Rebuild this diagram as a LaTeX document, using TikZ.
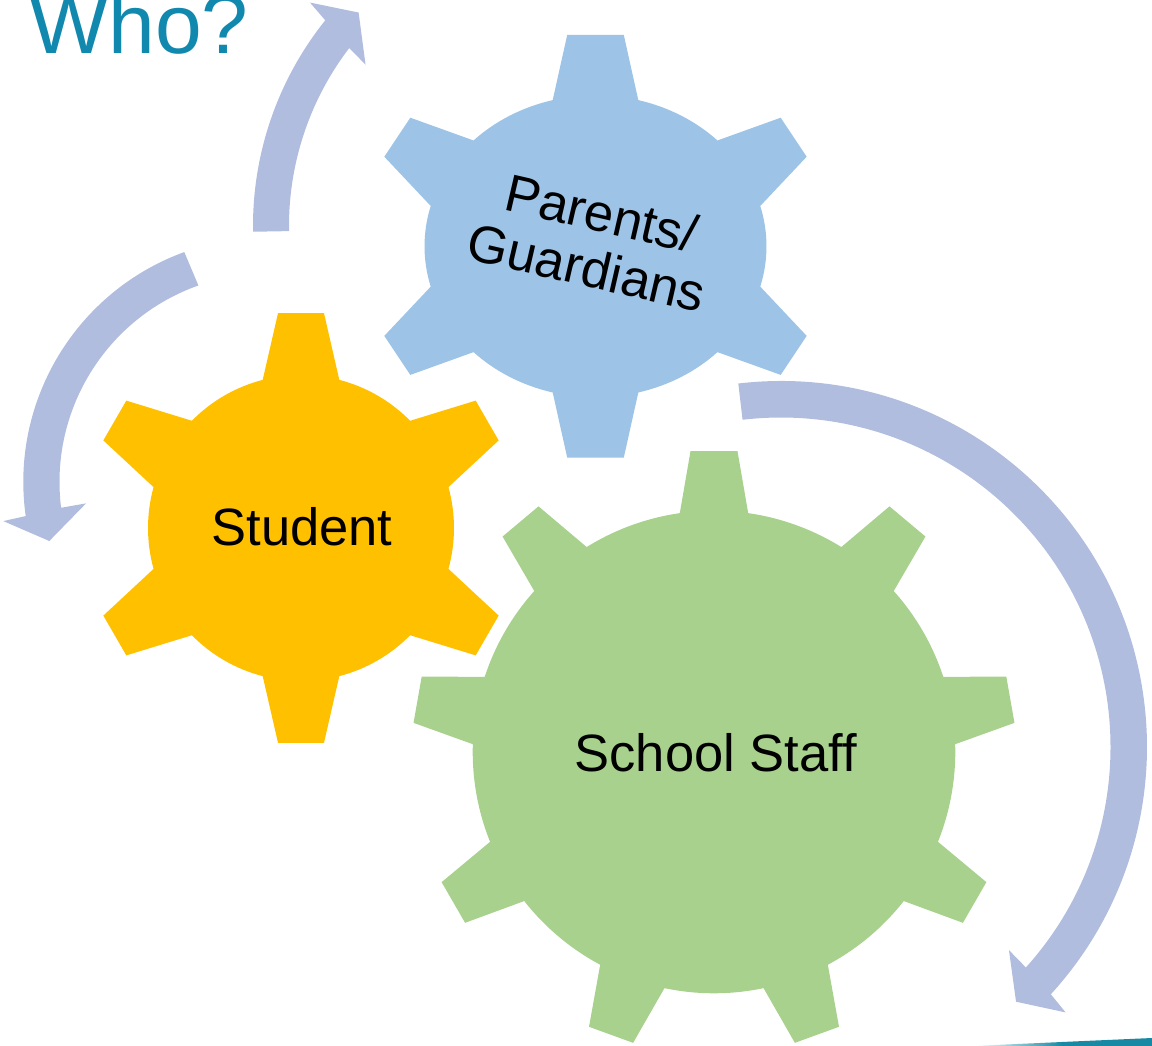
\documentclass[tikz,border=0pt]{standalone}
\usepackage{fontspec}
\setmainfont{Liberation Sans}
\definecolor{studentc}{RGB}{255,192,0}
\definecolor{parentc}{RGB}{157,195,230}
\definecolor{staffc}{RGB}{169,209,142}
\definecolor{arrowc}{RGB}{176,189,222}
\definecolor{titlec}{RGB}{17,136,173}
\definecolor{wedgec}{RGB}{24,137,164}
\tikzset{
  arrowfill/.style={fill=arrowc},
  gearlabel/.style={inner sep=0pt, anchor=base, font=\fontsize{52.5}{63}\selectfont, text=black},
}
\begin{document}
\begin{tikzpicture}[x=1pt,y=1pt]
\useasboundingbox (0,0) rectangle (1152,-1046);
% ---- circular arrows ----
\begin{scope}[shift={(582,-226)}]
\fill[arrowfill] (181.0:329pt) arc[start angle=181.0, end angle=141.3, radius=329pt]
  -- (140.6:352pt) -- (136.3:309pt) -- (143.3:270pt) -- (142.6:293pt)
  arc[start angle=142.6, end angle=181.0, radius=293pt] -- cycle;
\end{scope}
\begin{scope}[shift={(268,-482)}]
\fill[arrowfill] (110.0:244.7pt) arc[start angle=110.0, end angle=188.0, radius=244.7pt]
  -- (188.4:267.6pt) -- (195.1:226.5pt) -- (186.7:183.2pt) -- (187.1:208.5pt)
  arc[start angle=187.1, end angle=109.5, radius=208.5pt] -- cycle;
\end{scope}
\begin{scope}[shift={(781,-747)}]
\fill[arrowfill] (96.7:366pt) arc[start angle=96.7, end angle=-42.5, radius=366pt]
  -- (-43.0:389.2pt) -- (-47.3:346.6pt) -- (-41.7:305.3pt) -- (-42.0:329.5pt)
  arc[start angle=-42.0, end angle=96.7, radius=329.5pt] -- cycle;
\end{scope}
% ---- gears ----
\begin{scope}[shift={(301,-528)}]
\fill[studentc] (104.5:153pt) \foreach \t in {90,30,...,-210} { -- (\t+6.1:216.2pt) -- (\t-6.1:216.2pt) -- (\t-14.5:153pt) arc[start angle=\t-14.5, end angle=\t-45.5, radius=153pt] } -- cycle;
\end{scope}
\begin{scope}[shift={(595.5,-246.3)}]
\fill[parentc] (104.5:171pt and 151pt)
  -- (-28.3,211.3) -- (28.3,211.3) -- (75.5:171pt and 151pt)
  arc[start angle=75.5, end angle=44.5, x radius=171pt, y radius=151pt]
  -- (185.2,128.6) -- (211.2,89.6) -- (15.5:171pt and 151pt)
  arc[start angle=15.5, end angle=-15.5, x radius=171pt, y radius=151pt]
  -- (211.2,-89.6) -- (185.2,-128.6) -- (-44.5:171pt and 151pt)
  arc[start angle=-44.5, end angle=-75.5, x radius=171pt, y radius=151pt]
  -- (28.3,-211.3) -- (-28.3,-211.3) -- (-104.5:171pt and 151pt)
  arc[start angle=-104.5, end angle=-135.5, x radius=171pt, y radius=151pt]
  -- (-185.2,-128.6) -- (-211.2,-89.6) -- (-164.5:171pt and 151pt)
  arc[start angle=-164.5, end angle=-195.5, x radius=171pt, y radius=151pt]
  -- (-211.2,89.6) -- (-185.2,128.6) -- (135.5:171pt and 151pt)
  arc[start angle=135.5, end angle=104.5, x radius=171pt, y radius=151pt] -- cycle;
\end{scope}
\begin{scope}[shift={(714,-752)}]
\fill[staffc] (98.15:241.3pt) \foreach \t in {90,50,...,-230} { -- (\t+4.46:301.9pt) -- (\t-4.46:301.9pt) -- (\t-8.15:241.3pt) arc[start angle=\t-8.15, end angle=\t-31.85, radius=241.3pt] } -- cycle;
\end{scope}
% ---- labels ----
\node[gearlabel] (student) at (302,-545) {Student};
\node[gearlabel, rotate=-13] (parents) at (597.4,-231.2) {Parents/};
\node[gearlabel, rotate=-13] (guardians) at (582.5,-285.6) {Guardians};
\node[gearlabel] (staff) at (715.7,-771.4) {School Staff};
\node[anchor=base west, inner sep=0pt, text=titlec, font=\fontsize{84}{100}\selectfont] (title) at (29,-54) {Who?};
% ---- bottom accent ----
\shade[left color=white, right color=wedgec] (972,-1046) -- (1062,-1042) -- (1062,-1046) -- cycle;
\fill[wedgec] (1061.5,-1042) -- (1152,-1038) -- (1152,-1046) -- (1061.5,-1046) -- cycle;
\end{tikzpicture}
\end{document}
